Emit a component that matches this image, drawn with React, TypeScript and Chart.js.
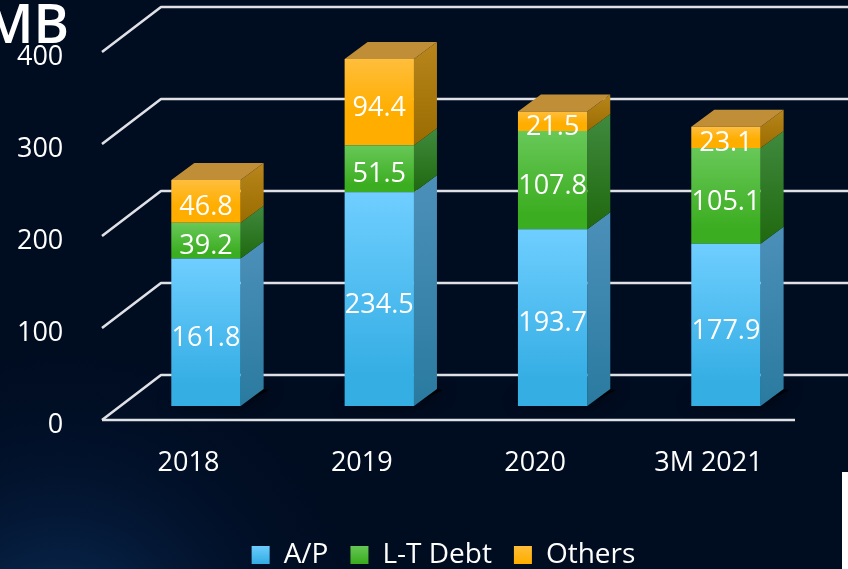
import React, { useEffect, useRef } from "react";
import { Chart, registerables } from "chart.js";

Chart.register(...registerables);

const categories = ["2018", "2019", "2020", "3M 2021"];
const apValues = [161.8, 234.5, 193.7, 177.9];
const debtValues = [39.2, 51.5, 107.8, 105.1];
const otherValues = [46.8, 94.4, 21.5, 23.1];
const seriesNames = ["A/P", "L-T Debt", "Others"];
const axisTicks = [0, 100, 200, 300, 400];
const unitLabel = "MB";

const allValues = [apValues, debtValues, otherValues];
const frontTop = ["#6fceff", "#68c858", "#ffbe3c"];
const frontBottom = ["#35aee4", "#3bad20", "#ffae00"];
const sideTop = ["#4c90ba", "#3f8a3e", "#b8861c"];
const sideBottom = ["#2a7a9f", "#20690f", "#9a6c00"];
const edge = ["#2f8fbd", "#369a22", "#d99a10"];
const roofColor = "#c08e36";
const gridColor = "#dfe1e6";

const DEPTH_X = 23;
const DEPTH_Y = 17;
const WALL_X = 59;
const WALL_Y = 45;
const LEGEND_SHIFT_X = 37.2;
const LEGEND_SHIFT_Y = 14;

const scene = {
  id: "scene",
  afterLayout(chart: any) {
    const legend = chart.legend;
    if (!legend) return;
    legend.left += LEGEND_SHIFT_X;
    legend.right += LEGEND_SHIFT_X;
    legend.top += LEGEND_SHIFT_Y;
    legend.bottom += LEGEND_SHIFT_Y;
  },
  beforeDraw(chart: any) {
    const { ctx, width, height } = chart;
    ctx.save();
    ctx.fillStyle = "#000c20";
    ctx.fillRect(0, 0, width, height);
    const glow = ctx.createRadialGradient(60, 650, 10, 60, 650, 340);
    glow.addColorStop(0, "rgba(25,85,150,0.5)");
    glow.addColorStop(0.5, "rgba(10,45,95,0.22)");
    glow.addColorStop(1, "rgba(0,12,32,0)");
    ctx.fillStyle = glow;
    ctx.fillRect(0, 0, width, height);
    ctx.fillStyle = "#ffffff";
    ctx.fillRect(842, 472, 6, 97);
    ctx.restore();
  },
  beforeDatasetsDraw(chart: any) {
    const { ctx, width, scales } = chart;
    const y = scales.y;
    const frontLeft = 102;
    const frontRight = 795;
    ctx.save();
    ctx.strokeStyle = gridColor;
    ctx.lineWidth = 2.6;
    ctx.lineJoin = "round";
    axisTicks.forEach((v) => {
      const py = y.getPixelForValue(v);
      ctx.beginPath();
      ctx.moveTo(frontLeft, py);
      ctx.lineTo(frontLeft + WALL_X, py - WALL_Y);
      ctx.lineTo(width, py - WALL_Y);
      ctx.stroke();
    });
    const py0 = y.getPixelForValue(0);
    ctx.beginPath();
    ctx.moveTo(frontLeft, py0);
    ctx.lineTo(frontRight, py0);
    ctx.stroke();
    ctx.restore();

    // floor shadows
    const first = chart.getDatasetMeta(0).data;
    first.forEach((el: any) => {
      const r = el.x + el.width / 2;
      const l = el.x - el.width / 2;
      ctx.save();
      ctx.shadowColor = "rgba(0,0,0,0.9)";
      ctx.shadowBlur = 16;
      ctx.fillStyle = "rgba(0,0,0,0.8)";
      ctx.beginPath();
      ctx.moveTo(l - 4, el.base - 4);
      ctx.lineTo(r, el.base - 2);
      ctx.lineTo(r + DEPTH_X + 6, el.base - DEPTH_Y + 1);
      ctx.lineTo(r, el.base - DEPTH_Y - 2);
      ctx.closePath();
      ctx.fill();
      ctx.restore();
    });

    // side and roof faces
    allValues.forEach((_, ds) => {
      const meta = chart.getDatasetMeta(ds);
      meta.data.forEach((el: any) => {
        const r = el.x + el.width / 2;
        const g = ctx.createLinearGradient(0, el.y - DEPTH_Y, 0, el.base);
        g.addColorStop(0, sideTop[ds]);
        g.addColorStop(1, sideBottom[ds]);
        ctx.fillStyle = g;
        ctx.beginPath();
        ctx.moveTo(r, el.y);
        ctx.lineTo(r + DEPTH_X, el.y - DEPTH_Y);
        ctx.lineTo(r + DEPTH_X, el.base - DEPTH_Y);
        ctx.lineTo(r, el.base);
        ctx.closePath();
        ctx.fill();
        if (ds === allValues.length - 1) {
          const l = el.x - el.width / 2;
          ctx.fillStyle = roofColor;
          ctx.beginPath();
          ctx.moveTo(l, el.y);
          ctx.lineTo(l + DEPTH_X, el.y - DEPTH_Y);
          ctx.lineTo(r + DEPTH_X, el.y - DEPTH_Y);
          ctx.lineTo(r, el.y);
          ctx.closePath();
          ctx.fill();
        }
      });
    });
  },
  afterDatasetsDraw(chart: any) {
    const { ctx } = chart;
    ctx.save();
    ctx.fillStyle = "#ffffff";
    ctx.textAlign = "center";
    ctx.textBaseline = "middle";
    ctx.font = "27px 'Open Sans'";
    allValues.forEach((vals, ds) => {
      const meta = chart.getDatasetMeta(ds);
      meta.data.forEach((el: any, i: number) => {
        ctx.fillText(vals[i].toFixed(1), el.x, (el.y + el.base) / 2 + 6);
      });
    });
    ctx.font = "600 54px 'Open Sans'";
    ctx.textAlign = "right";
    ctx.fillText(unitLabel, 69, 28);
    ctx.restore();
  },
};

function faceFill(ds: number) {
  return (c: any) => {
    const chart = c.chart;
    const scale = chart.scales.y2;
    if (!scale) return frontTop[ds];
    const i = c.dataIndex ?? 0;
    let base = 0;
    for (let k = 0; k < ds; k++) base += allValues[k][i];
    const g = chart.ctx.createLinearGradient(
      0,
      scale.getPixelForValue(base + allValues[ds][i]),
      0,
      scale.getPixelForValue(base)
    );
    g.addColorStop(0, frontTop[ds]);
    g.addColorStop(ds === 2 ? 0.6 : 0.85, frontBottom[ds]);
    g.addColorStop(1, frontBottom[ds]);
    return g;
  };
}

export default function App() {
  const ref = useRef<HTMLCanvasElement | null>(null);
  useEffect(() => {
    const canvas = ref.current!;
    const chart = new Chart(canvas, {
      type: "bar",
      data: {
        labels: categories,
        datasets: allValues.map((vals, ds) => ({
          label: seriesNames[ds],
          data: vals,
          yAxisID: "y2",
          stack: "s",
          backgroundColor: faceFill(ds),
          borderColor: edge[ds],
          borderWidth: 0,
          barPercentage: 0.4,
          categoryPercentage: 1,
        })),
      },
      plugins: [scene],
      options: {
        responsive: false,
        animation: false,
        layout: { padding: { top: 52, left: 0, right: 35.4, bottom: 4 } },
        plugins: {
          title: { display: false },
          tooltip: { enabled: false },
          legend: {
            position: "bottom",
            labels: {
              color: "#ffffff",
              boxWidth: 18,
              boxHeight: 18,
              padding: 22,
              font: { family: "'Open Sans'", size: 28 },
              generateLabels(c: any) {
                return seriesNames.map((name, ds) => {
                  const g = c.ctx.createLinearGradient(0, 545, 0, 563);
                  g.addColorStop(0, frontTop[ds]);
                  g.addColorStop(1, frontBottom[ds]);
                  return {
                    text: name,
                    fillStyle: g,
                    strokeStyle: "transparent",
                    lineWidth: 0,
                    fontColor: "#ffffff",
                    datasetIndex: ds,
                    hidden: false,
                  };
                });
              },
            },
          },
        },
        scales: {
          x: {
            stacked: true,
            grid: { display: false },
            border: { display: false },
            afterFit(s: any) {
              s.height = 85;
            },
            ticks: {
              color: "#ffffff",
              autoSkip: false,
              maxRotation: 0,
              padding: 19,
              labelOffset: -17.5,
              font: { family: "'Open Sans'", size: 27 },
            },
          },
          y: {
            min: 0,
            max: 400,
            grid: { display: false },
            border: { display: false },
            afterFit(s: any) {
              s.width = 119.3;
              s.paddingTop = 0;
              s.paddingBottom = 0;
            },
            afterBuildTicks(s: any) {
              s.ticks = axisTicks.map((v) => ({ value: v }));
            },
            ticks: {
              color: "#ffffff",
              padding: 48,
              labelOffset: 5,
              font: { family: "'Open Sans'", size: 27 },
            },
          },
          y2: {
            display: false,
            stacked: true,
            min: -15.35,
            max: 388.2,
          },
        },
      },
    } as any);
    return () => chart.destroy();
  }, []);
  return (
    <div style={{ position: "absolute", left: 0, top: 0, width: 848, height: 569 }}>
      <canvas ref={ref} width={848} height={569} style={{ display: "block" }} />
    </div>
  );
}
